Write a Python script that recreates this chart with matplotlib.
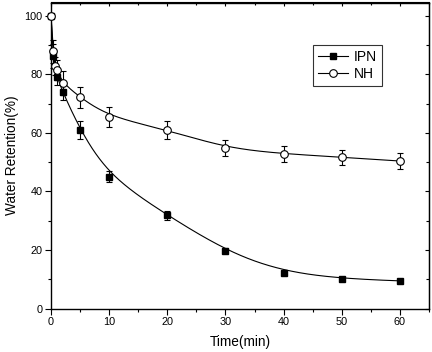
import numpy as np
import matplotlib
matplotlib.use("Agg")
import matplotlib.pyplot as plt
from matplotlib.ticker import MultipleLocator

plt.rcParams['font.family'] = ['Liberation Sans', 'DejaVu Sans']

# ---- data ----
ipn_t = [0, 0.33, 1, 2, 5, 10, 20, 30, 40, 50, 60]
ipn_y = [100, 86.2, 79.2, 74.1, 61.0, 45.1, 31.9, 19.8, 12.3, 10.2, 9.5]
ipn_err = [0, 4, 3, 3, 3, 2, 1.5, 0.8, 0.6, 0.6, 0.6]

nh_t = [0, 0.4, 0.7, 1, 2, 5, 10, 20, 30, 40, 50, 60]
nh_y = [100, 87.8, 82.9, 81.4, 77.1, 72.1, 65.5, 61.0, 54.9, 52.8, 51.7, 50.4]
nh_err = [0, 4, 3, 3.5, 4, 3.5, 3.5, 3.2, 2.8, 2.6, 2.6, 2.6]

series_names = ["IPN", "NH"]
x_label = "Time(min)"
y_label = "Water Retention(%)"


def bspline_curve(px, py, npts=1500, k=3):
    """Clamped uniform cubic B-spline using the data points as control points
    (like Origin's 'B-Spline' line connection)."""
    P = np.column_stack([px, py]).astype(float)
    n = len(P)
    inner = np.arange(1, n - k)
    knots = np.concatenate([np.zeros(k + 1), inner, np.full(k + 1, n - k)]).astype(float)
    u = np.linspace(0, n - k, npts)
    u[-1] -= 1e-9
    # Cox-de Boor
    N = np.zeros((npts, len(knots) - 1))
    for i in range(len(knots) - 1):
        N[:, i] = (u >= knots[i]) & (u < knots[i + 1])
    for d in range(1, k + 1):
        Nn = np.zeros((npts, len(knots) - 1 - d))
        for i in range(len(knots) - 1 - d):
            a = knots[i + d] - knots[i]
            b = knots[i + d + 1] - knots[i + 1]
            t1 = (u - knots[i]) / a * N[:, i] if a > 0 else 0
            t2 = (knots[i + d + 1] - u) / b * N[:, i + 1] if b > 0 else 0
            Nn[:, i] = t1 + t2
        N = Nn
    C = N @ P
    return C[:, 0], C[:, 1]


fig = plt.figure(figsize=(4.32, 3.52), dpi=100)
ax = fig.add_axes([51 / 432, 1 - 308.7 / 352, (429 - 51) / 432, (308.7 - 2.5) / 352])

cx, cy = bspline_curve(ipn_t, ipn_y)
ax.plot(cx, cy, color='black', lw=0.8, zorder=2)
cx, cy = bspline_curve(nh_t, nh_y)
ax.plot(cx, cy, color='black', lw=0.8, zorder=2)

ax.errorbar(ipn_t, ipn_y, yerr=ipn_err, fmt='s', color='black', ms=4.3,
            mfc='black', mec='black', ecolor='black', elinewidth=0.8,
            capsize=2.5, capthick=0.8, zorder=3, clip_on=False)
ax.errorbar(nh_t, nh_y, yerr=nh_err, fmt='o', color='black', ms=5.5,
            mfc='white', mec='black', mew=0.8, ecolor='black', elinewidth=0.8,
            capsize=2.5, capthick=0.8, zorder=4, clip_on=False)

# legend proxies
h1, = ax.plot([], [], '-s', color='black', ms=4.3, lw=0.8, mfc='black')
h2, = ax.plot([], [], '-o', color='black', ms=5.5, lw=0.8, mfc='white', mew=0.8)
leg = ax.legend([h1, h2], series_names, loc='upper left',
                bbox_to_anchor=(0.693, 0.862), borderaxespad=0, frameon=True,
                fancybox=False, edgecolor='black', fontsize=10, handlelength=2.2,
                handletextpad=0.4, borderpad=0.35, labelspacing=0.25)
leg.get_frame().set_linewidth(0.8)

ax.set_xlim(0, 65)
ax.set_ylim(0, 104.5)
ax.xaxis.set_major_locator(MultipleLocator(10))
ax.xaxis.set_minor_locator(MultipleLocator(5))
ax.yaxis.set_major_locator(MultipleLocator(20))
ax.yaxis.set_minor_locator(MultipleLocator(10))
ax.tick_params(which='major', direction='out', length=4, width=0.8, labelsize=7.8, pad=2)
ax.tick_params(which='minor', direction='out', length=2.5, width=0.8)

for s in ax.spines.values():
    s.set_linewidth(1.0)

sx = ax.secondary_xaxis('top')
sx.xaxis.set_major_locator(MultipleLocator(10))
sx.xaxis.set_minor_locator(MultipleLocator(5))
sx.tick_params(which='both', direction='in', labeltop=False, width=0.8)
sx.tick_params(which='major', length=3)
sx.tick_params(which='minor', length=2)
sy = ax.secondary_yaxis('right')
sy.yaxis.set_major_locator(MultipleLocator(20))
sy.yaxis.set_minor_locator(MultipleLocator(10))
sy.tick_params(which='both', direction='in', labelright=False, width=0.8)
sy.tick_params(which='major', length=3)
sy.tick_params(which='minor', length=2)

ax.set_xlabel(x_label, fontsize=9.8, labelpad=6)
ax.set_ylabel(y_label, fontsize=9.8, labelpad=4)

fig.savefig('out.png', dpi=100)
